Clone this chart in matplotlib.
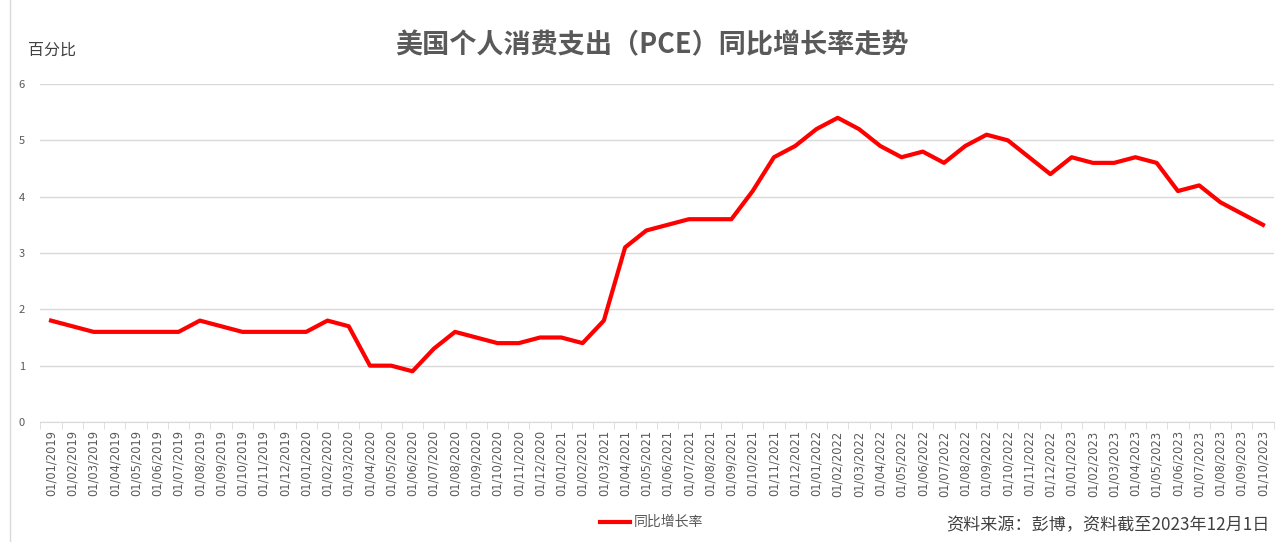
import matplotlib.pyplot as plt
from matplotlib.lines import Line2D

plt.rcParams['font.family'] = ['Noto Sans CJK SC', 'DejaVu Sans']

# monthly labels 01/01/2019 .. 01/10/2023
months = ['01/%02d/%d' % (m, y) for y in range(2019, 2024) for m in range(1, 13)][:58]
pce_yoy = [1.8, 1.7, 1.6, 1.6, 1.6, 1.6, 1.6, 1.8, 1.7, 1.6, 1.6, 1.6,
           1.6, 1.8, 1.7, 1.0, 1.0, 0.9, 1.3, 1.6, 1.5, 1.4, 1.4, 1.5,
           1.5, 1.4, 1.8, 3.1, 3.4, 3.5, 3.6, 3.6, 3.6, 4.1, 4.7, 4.9,
           5.2, 5.4, 5.2, 4.9, 4.7, 4.8, 4.6, 4.9, 5.1, 5.0, 4.7, 4.4,
           4.7, 4.6, 4.6, 4.7, 4.6, 4.1, 4.2, 3.9, 3.7, 3.5]
yticks = [0, 1, 2, 3, 4, 5, 6]

W, H = 1278, 542
fig = plt.figure(figsize=(W / 100, H / 100), dpi=100)
ax = fig.add_axes([40.4 / W, 1 - 422 / H, (1273.6 - 40.4) / W, (422 - 84) / H])

x = list(range(len(months)))
ax.plot(x, pce_yoy, color='#ff0000', lw=3, solid_joinstyle='round', label='同比增长率')

ax.set_xlim(-0.5, len(months) - 0.5)
ax.set_ylim(0, 6)
ax.set_yticks(yticks)
ax.set_yticklabels([str(v) for v in yticks], fontsize=8, color='#595959')
ax.tick_params(axis='y', length=0, pad=11)
ax.grid(axis='y', color='#d9d9d9', lw=1)
ax.set_axisbelow(True)

ax.set_xticks(x)
ax.set_xticklabels(months, rotation=90, fontsize=8.3, color='#595959',
                   family=['DejaVu Sans'])
ax.tick_params(axis='x', length=0, pad=6)
ax.set_xticks([i - 0.5 for i in range(len(months) + 1)], minor=True)
ax.tick_params(axis='x', which='minor', length=5, color='#d9d9d9')

for s in ['top', 'right', 'left']:
    ax.spines[s].set_visible(False)
ax.spines['bottom'].set_color('#d9d9d9')

fig.text(652 / W, 1 - 45 / H, '美国个人消费支出（PCE）同比增长率走势', ha='center', va='center',
         fontsize=19.5, color='#595959', fontweight='bold')
fig.text(28 / W, 1 - 50 / H, '百分比', ha='left', va='center', fontsize=11.5, color='#404040')

fig.add_artist(Line2D([600 / W, 630 / W], [1 - 522 / H, 1 - 522 / H], color='#ff0000', lw=3))
fig.text(634 / W, 1 - 522 / H, '同比增长率', ha='left', va='center', fontsize=10, color='#595959')
fig.text(1270 / W, 1 - 525 / H, '资料来源：彭博，资料截至2023年12月1日', ha='right', va='center',
         fontsize=12.3, color='#404040')

fig.add_artist(Line2D([10 / W, 10 / W], [0, 1], color='#d9d9d9', lw=1))

fig.savefig('out.png', dpi=100)
